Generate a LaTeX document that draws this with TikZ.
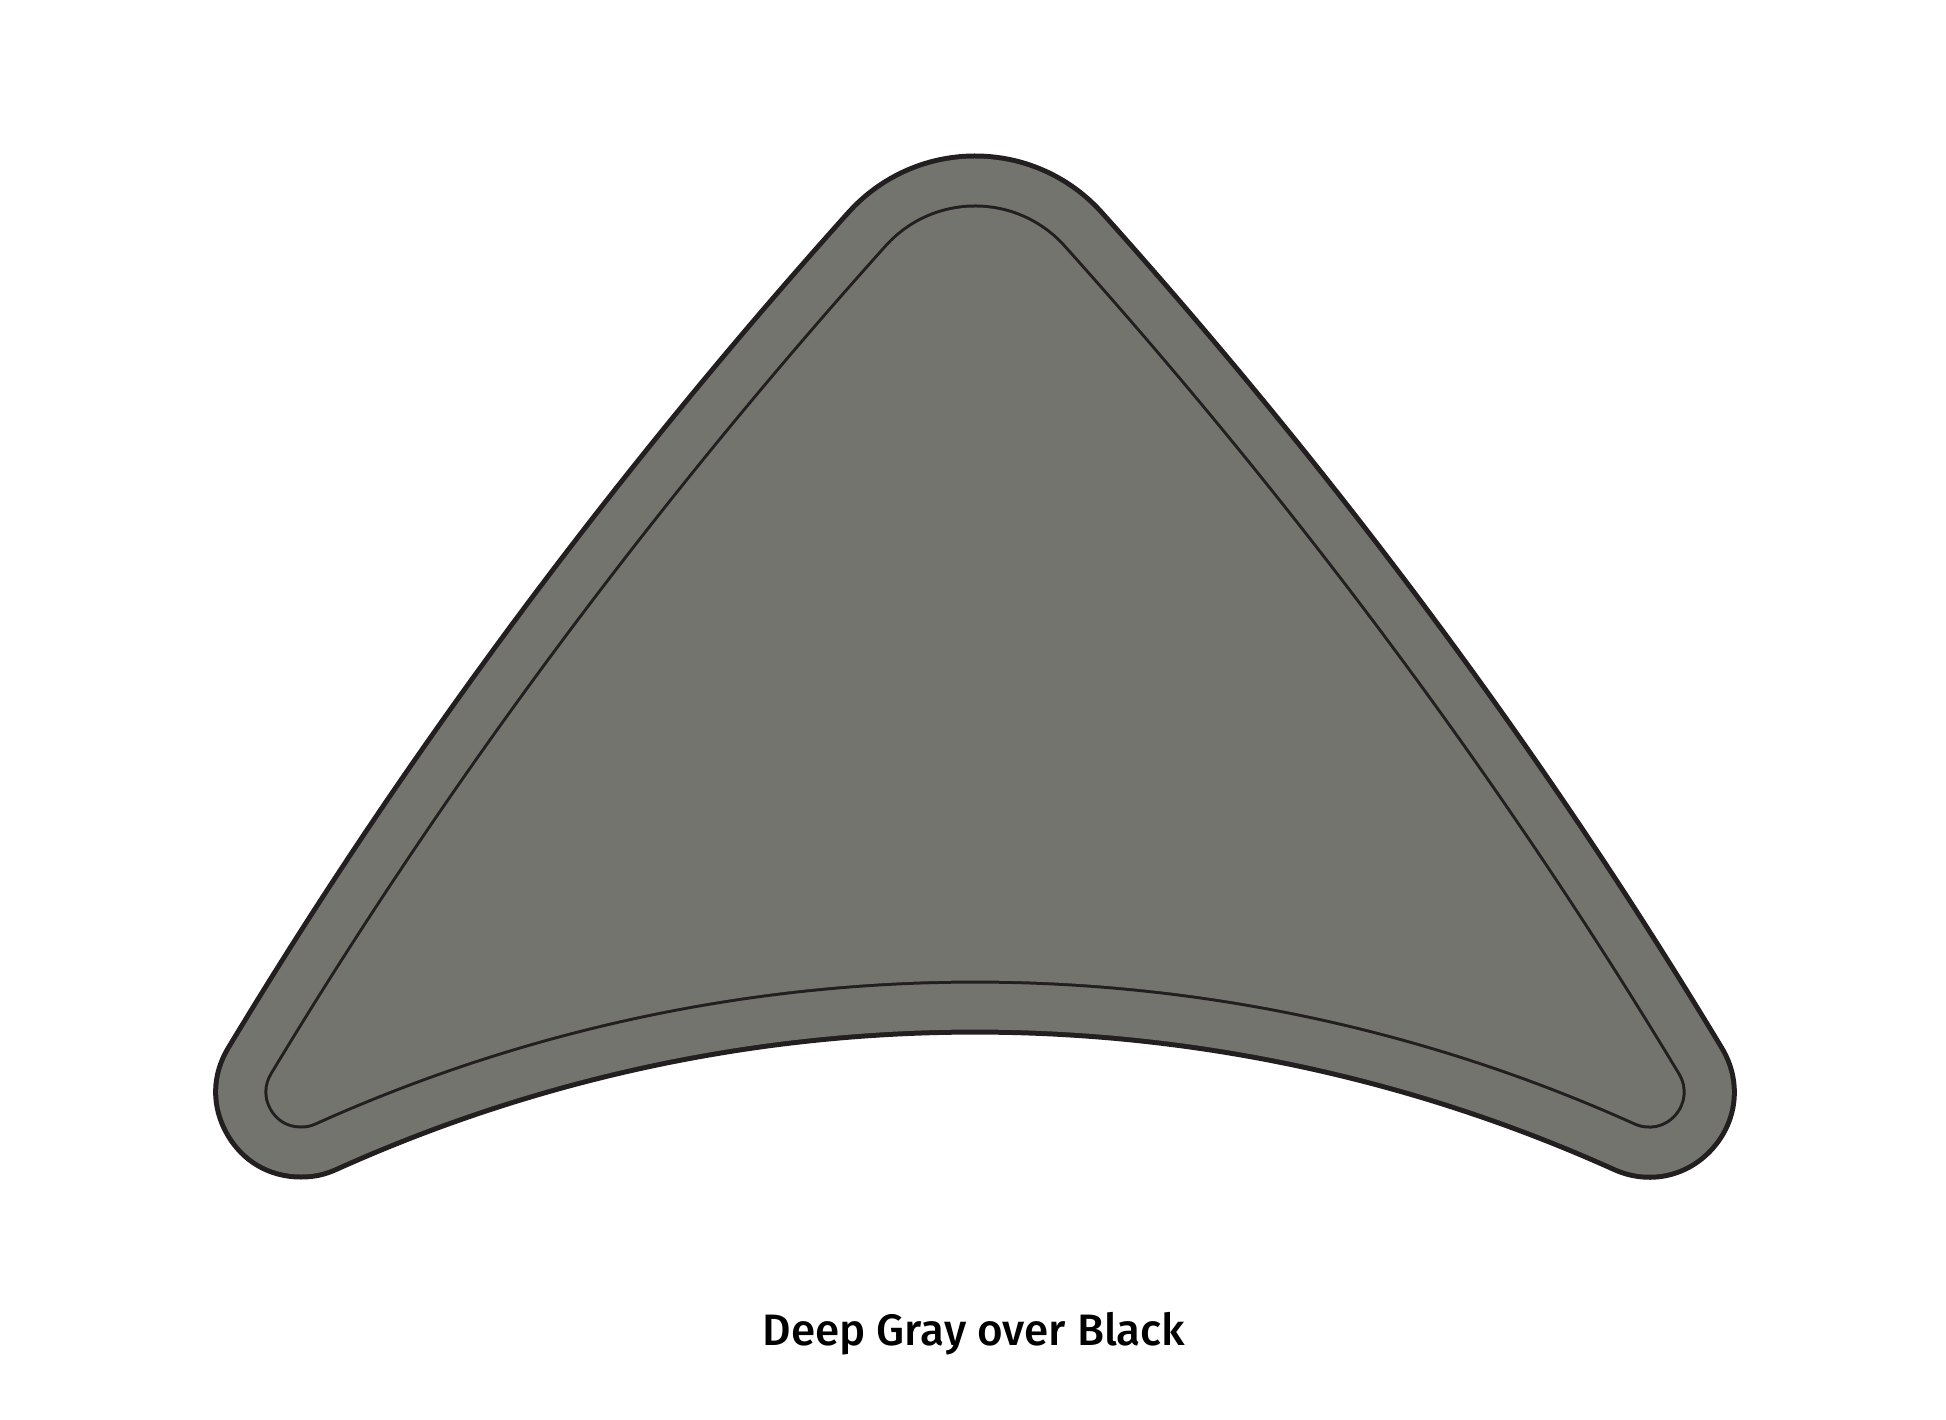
\documentclass[tikz,border=0pt]{standalone}
\usepackage{fontspec}
\newfontfamily\labelfont{Fira Sans Medium}
\definecolor{deepgray}{RGB}{115,116,110}
\definecolor{edgeblack}{RGB}{35,31,32}
\begin{document}
\begin{tikzpicture}[x=0.5pt,y=0.5pt,line join=round,
  outerrim/.style={draw=edgeblack,fill=edgeblack,line width=87.5pt},
  outerbody/.style={draw=deepgray,fill=deepgray,line width=82.5pt},
  innerrim/.style={draw=edgeblack,line width=36.5pt},
  innerbody/.style={draw=deepgray,line width=33.5pt},
  corefill/.style={fill=deepgray},
  caption/.style={anchor=base,font=\labelfont\fontsize{22}{26}\selectfont,text=black,inner sep=0pt}]
\useasboundingbox (0,0) rectangle (1946,1419);
\fill[white] (0,0) rectangle (1946,1419);
\def\core{(301,327) .. controls (477,619) and (683,895) .. (912,1150)
  arc[start angle=137.9,end angle=42.1,radius=85]
  .. controls (1267,895) and (1473,619) .. (1649,327)
  arc[start angle=65.72,end angle=114.28,radius=1639] -- cycle}
\path[outerrim] \core;
\path[outerbody] \core;
\path[innerrim] \core;
\path[innerbody] \core;
\path[corefill] \core;
\node[caption] (label) at (974,74) {Deep Gray over Black};
\end{tikzpicture}
\end{document}
